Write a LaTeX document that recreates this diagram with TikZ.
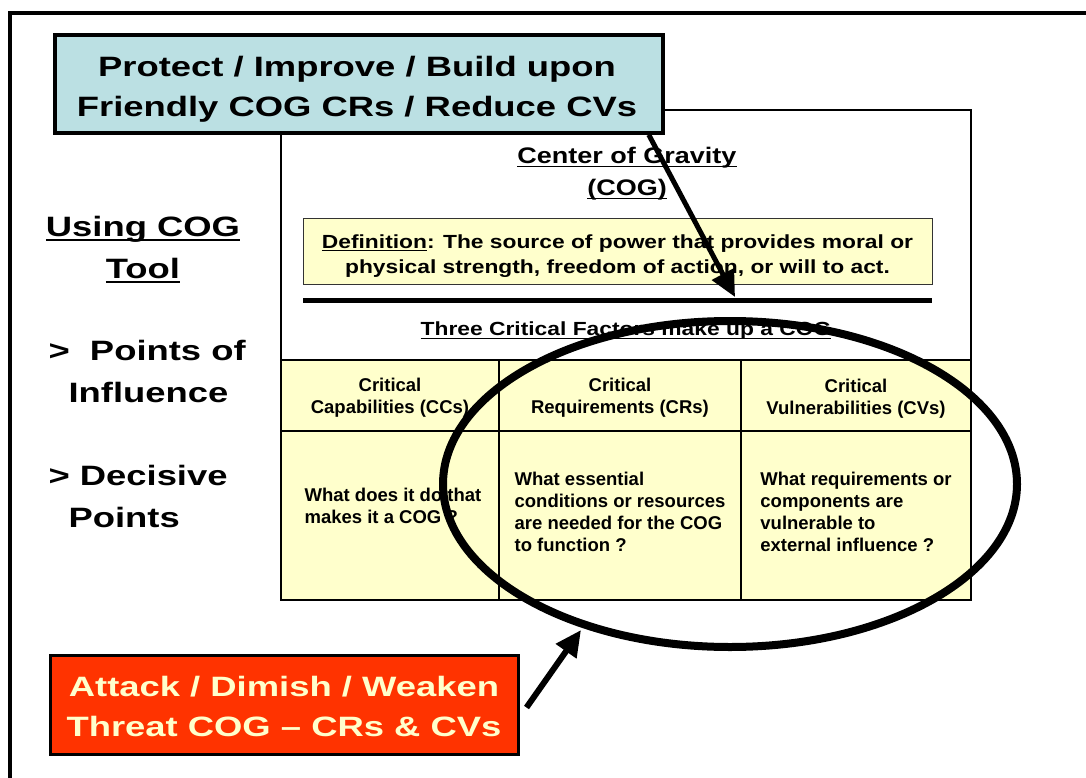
\documentclass[tikz,border=0pt]{standalone}
\usepackage{fontspec}
\setmainfont{Liberation Sans}
\newfontfamily\widefont[FakeStretch=1.3,Ligatures=TeX]{Liberation Sans}
\newfontfamily\midfont[FakeStretch=1.2,Ligatures=TeX]{Liberation Sans}
\usetikzlibrary{arrows.meta}
\definecolor{boxblue}{HTML}{BBE0E3}
\definecolor{paleyellow}{HTML}{FFFFCC}
\definecolor{threatred}{HTML}{FF3300}
\newcommand{\ulthick}[1]{\setbox0\hbox{#1}\rlap{\rule[-0.16em]{\wd0}{0.075em}}\box0}

\begin{document}
\begin{tikzpicture}[x=1pt,y=-1pt,
    bigtext/.style={font=\widefont\bfseries\fontsize{28}{40}\selectfont, align=center},
    sidetext/.style={font=\widefont\bfseries\fontsize{28}{42}\selectfont},
    midtext/.style={font=\midfont\bfseries\fontsize{#1}{32}\selectfont, align=center},
    cell/.style={draw, fill=paleyellow, line width=1.2pt, inner sep=0pt},
    celltext/.style={font=\bfseries\fontsize{18.5}{22}\selectfont, inner sep=0pt},
    fat arrow/.style={line width=#1, -{Triangle[width=24pt,length=26pt]}}]
  \clip (0,0) rectangle (1086,778);
  \useasboundingbox (0,0) rectangle (1086,778);
  % outer frame
  \draw[line width=4pt] (10,13) rectangle (1110,800);
  % COG tool box
  \draw[line width=2.5pt, fill=white] (281,110) rectangle (971,600);
  \node[midtext=22.5] (cog) at (627,174) {\ulthick{Center of Gravity}\\\ulthick{(COG)}};
  \node[draw=black!80, fill=paleyellow, line width=1pt, minimum width=629, minimum height=66,
    inner sep=0pt] (def) at (617.5,251) {};
  \node[font=\midfont\bfseries\fontsize{19}{25}\selectfont, align=center] (deftext) at (617.5,256)
    {\ulthick{Definition}: The source of power that provides moral or\\
     physical strength, freedom of action, or will to act.};
  \draw[line width=5pt] (303,300) -- (932,300);
  \coordinate (ruletip) at (735,297);
  \node[midtext=19] (three) at (626,331) {\ulthick{Three Critical Factors make up a COG}};
  % table
  \node[cell, minimum width=218, minimum height=71] (hcc) at (390,395.5) {};
  \node[cell, minimum width=242, minimum height=71] (hcr) at (620,395.5) {};
  \node[cell, minimum width=230, minimum height=71] (hcv) at (856,395.5) {};
  \node[cell, minimum width=218, minimum height=169] (bcc) at (390,515.5) {};
  \node[cell, minimum width=242, minimum height=169] (bcr) at (620,515.5) {};
  \node[cell, minimum width=230, minimum height=169] (bcv) at (856,515.5) {};
  \node[celltext, align=center] (hcctext) at ([yshift=-2pt]hcc.center) {Critical\\Capabilities (CCs)};
  \node[celltext, align=center] (hcrtext) at ([yshift=-2pt]hcr.center) {Critical\\Requirements (CRs)};
  \node[celltext, align=center] (hcvtext) at ([yshift=-3pt]hcv.center) {Critical\\Vulnerabilities (CVs)};
  \node[celltext, align=left] (bcctext) at ([xshift=3pt,yshift=10pt]bcc.center)
    {What does it do that\\makes it a COG ?};
  \node[celltext, align=left] (bcrtext) at ([yshift=4pt]bcr.center)
    {What essential\\conditions or resources\\are needed for the COG\\to function ?};
  \node[celltext, align=left] (bcvtext) at ([yshift=4pt]bcv.center)
    {What requirements or\\components are\\vulnerable to\\external influence ?};
  \draw[line width=2.5pt] (281,360) rectangle (971,600);
  % left column
  \node[sidetext, align=center] (tool) at (143,250) {\ulthick{Using COG}\\\ulthick{Tool}};
  \node[sidetext, align=left, anchor=west] (poi) at (45,371)
    {>\ \ Points of\\\hspace*{20pt}Influence};
  \node[sidetext, align=left, anchor=west] (dec) at (45,496)
    {> Decisive\\\hspace*{20pt}Points};
  % action boxes
  \node[draw, line width=3.5pt, fill=boxblue, minimum width=608, minimum height=98]
    (protect) at (359,84) {};
  \node[bigtext] (protecttext) at (357,89) {Protect / Improve / Build upon\\Friendly COG CRs / Reduce CVs};
  \node[draw, line width=3pt, fill=threatred, minimum width=468, minimum height=99]
    (attack) at (284,704.5) {};
  \node[bigtext, text=paleyellow] (attacktext) at (284,706)
    {Attack / Dimish / Weaken\\Threat COG -- CRs \& CVs};
  % ring and arrows
  \draw[line width=8pt] (730,484) ellipse [x radius=287, y radius=163];
  \coordinate (ringtip) at (581,630);
  \draw[fat arrow=5pt] ([xshift=-16pt]protect.south east) -- (ruletip);
  \draw[fat arrow=6pt] ([xshift=7pt,yshift=-3pt]attack.east) -- (ringtip);
\end{tikzpicture}
\end{document}
